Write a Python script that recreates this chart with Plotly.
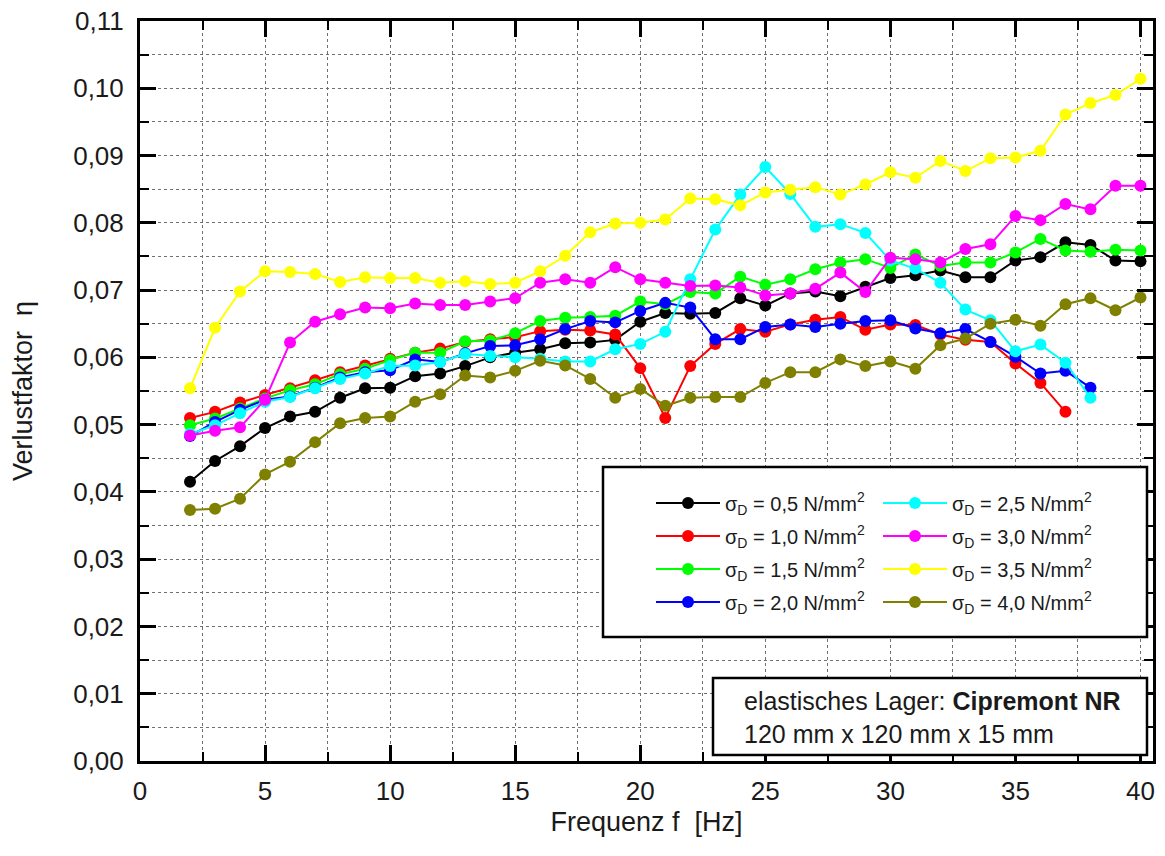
import plotly.graph_objects as go

freq = [2, 3, 4, 5, 6, 7, 8, 9, 10, 11, 12, 13, 14, 15, 16, 17, 18, 19, 20,
        21, 22, 23, 24, 25, 26, 27, 28, 29, 30, 31, 32, 33, 34, 35, 36, 37, 38, 39, 40]

s05 = [0.0415, 0.0446, 0.0468, 0.0495, 0.0512, 0.0519, 0.0540, 0.0554, 0.0555, 0.0572, 0.0576, 0.0587,
       0.0600, 0.0607, 0.0612, 0.0621, 0.0622, 0.0626, 0.0653, 0.0666, 0.0665, 0.0666, 0.0688, 0.0677, 0.0695,
       0.0698, 0.0691, 0.0705, 0.0718, 0.0722, 0.0729, 0.0719, 0.0719, 0.0744, 0.0749, 0.0771, 0.0767, 0.0744, 0.0743]
s10 = [0.0510, 0.0519, 0.0533, 0.0544, 0.0554, 0.0566, 0.0578, 0.0588, 0.0598, 0.0607, 0.0613, 0.0623,
       0.0627, 0.0630, 0.0639, 0.0641, 0.0640, 0.0634, 0.0584, 0.0510, 0.0587, 0.0620, 0.0642, 0.0638, 0.0649,
       0.0656, 0.0660, 0.0641, 0.0649, 0.0648, 0.0634, 0.0626, 0.0623, 0.0591, 0.0562, 0.0519]
s15 = [0.0499, 0.0509, 0.0524, 0.0539, 0.0551, 0.0560, 0.0575, 0.0583, 0.0596, 0.0607, 0.0607, 0.0624,
       0.0625, 0.0636, 0.0654, 0.0659, 0.0660, 0.0662, 0.0683, 0.0679, 0.0697, 0.0695, 0.0720, 0.0708, 0.0716,
       0.0731, 0.0741, 0.0746, 0.0733, 0.0753, 0.0736, 0.0741, 0.0741, 0.0756, 0.0776, 0.0759, 0.0757, 0.0760, 0.0759]
s20 = [0.0483, 0.0504, 0.0522, 0.0537, 0.0542, 0.0555, 0.0570, 0.0578, 0.0581, 0.0597, 0.0593, 0.0606,
       0.0617, 0.0618, 0.0627, 0.0642, 0.0654, 0.0652, 0.0669, 0.0681, 0.0674, 0.0627, 0.0627, 0.0645, 0.0649,
       0.0645, 0.0650, 0.0654, 0.0655, 0.0643, 0.0636, 0.0642, 0.0623, 0.0601, 0.0576, 0.0580, 0.0555]
s25 = [0.0486, 0.0499, 0.0517, 0.0534, 0.0541, 0.0554, 0.0568, 0.0576, 0.0587, 0.0588, 0.0593, 0.0605,
       0.0602, 0.0600, 0.0598, 0.0594, 0.0594, 0.0612, 0.0620, 0.0638, 0.0716, 0.0790, 0.0842, 0.0883, 0.0843,
       0.0794, 0.0798, 0.0785, 0.0744, 0.0732, 0.0711, 0.0671, 0.0655, 0.0609, 0.0619, 0.0592, 0.0540]
s30 = [0.0484, 0.0491, 0.0496, 0.0537, 0.0622, 0.0653, 0.0664, 0.0674, 0.0673, 0.0680, 0.0678, 0.0678,
       0.0683, 0.0688, 0.0711, 0.0716, 0.0711, 0.0734, 0.0716, 0.0711, 0.0706, 0.0707, 0.0704, 0.0692, 0.0695,
       0.0702, 0.0726, 0.0697, 0.0748, 0.0746, 0.0741, 0.0761, 0.0768, 0.0810, 0.0804, 0.0828, 0.0820, 0.0855, 0.0855]
s35 = [0.0554, 0.0644, 0.0698, 0.0728, 0.0727, 0.0724, 0.0712, 0.0719, 0.0718, 0.0718, 0.0711, 0.0713,
       0.0709, 0.0711, 0.0728, 0.0751, 0.0786, 0.0799, 0.0800, 0.0805, 0.0836, 0.0835, 0.0826, 0.0845, 0.0849,
       0.0853, 0.0842, 0.0857, 0.0875, 0.0867, 0.0892, 0.0877, 0.0896, 0.0897, 0.0907, 0.0961, 0.0978, 0.0990, 0.1014]
s40 = [0.0373, 0.0375, 0.0390, 0.0426, 0.0445, 0.0474, 0.0502, 0.0510, 0.0512, 0.0534, 0.0545, 0.0573,
       0.0570, 0.0580, 0.0595, 0.0588, 0.0568, 0.0540, 0.0553, 0.0528, 0.0540, 0.0541, 0.0541, 0.0562, 0.0578,
       0.0578, 0.0597, 0.0587, 0.0594, 0.0583, 0.0618, 0.0628, 0.0650, 0.0656, 0.0647, 0.0679, 0.0688, 0.0670, 0.0689]

labels = ["0,5", "1,0", "1,5", "2,0", "2,5", "3,0", "3,5", "4,0"]
series = [s05, s10, s15, s20, s25, s30, s35, s40]
colors = ["#000000", "#FF0000", "#00FF00", "#0000FF", "#00FFFF", "#FF00FF", "#FFFF00", "#808000"]
legend_ids = ["legend", "legend", "legend", "legend", "legend2", "legend2", "legend2", "legend2"]

FONT = "Liberation Sans, Arial, sans-serif"
TXT = "#1a1a1a"

fig = go.Figure()
for i, (lab, s, c, lg) in enumerate(zip(labels, series, colors, legend_ids)):
    fig.add_trace(go.Scatter(
        x=freq[:len(s)], y=s, mode="lines+markers",
        name="σ<sub>D</sub> = " + lab + " N/mm<sup>2</sup>",
        line=dict(color=c, width=2),
        marker=dict(color=c, size=12, line=dict(width=0)),
        legend=lg, legendgroup="g%d" % i,
    ))

W, H = 1165, 856
L, R, T, B = 140, 12, 21, 95
pw, ph = W - L - R, H - T - B

def px(xp):
    return (xp - L) / pw

def py(yp):
    return (H - B - yp) / ph

axis_common = dict(
    showline=True, linewidth=3, linecolor="black", mirror="ticks",
    ticks="inside", tickwidth=3, ticklen=16, tickcolor="black",
    showgrid=True, gridcolor="#707070", griddash="dot", gridwidth=1,
    zeroline=False,
    tickfont=dict(family=FONT, size=26, color=TXT),
)

fig.update_xaxes(
    **axis_common,
    range=[0, 40.5], tickmode="linear", tick0=0, dtick=5,
    minor=dict(dtick=2.5, ticks="inside", ticklen=9, tickwidth=2, tickcolor="black",
               showgrid=True, gridcolor="#707070", griddash="dot", gridwidth=1),
    title=dict(text="Frequenz f  [Hz]", font=dict(family=FONT, size=27, color=TXT), standoff=7),
    ticklabelstandoff=5,
)
fig.update_yaxes(
    **axis_common,
    range=[0, 0.11], tickmode="linear", tick0=0, dtick=0.01, tickformat=".2f",
    minor=dict(dtick=0.005, ticks="inside", ticklen=9, tickwidth=2, tickcolor="black",
               showgrid=True, gridcolor="#707070", griddash="dot", gridwidth=1),
    title=dict(text="Verlustfaktor  η", font=dict(family=FONT, size=27, color=TXT), standoff=33),
    ticklabelstandoff=8,
)

legend_style = dict(
    orientation="v", xanchor="left", yanchor="top",
    bgcolor="rgba(0,0,0,0)", borderwidth=0,
    font=dict(family=FONT, size=20, color=TXT),
    itemwidth=64, tracegroupgap=4,
)

fig.update_layout(
    width=W, height=H,
    margin=dict(l=L, r=R, t=T, b=B, autoexpand=False),
    paper_bgcolor="white", plot_bgcolor="white",
    separators=",.",
    showlegend=True,
    legend=dict(x=px(651), y=py(483.5), **legend_style),
    legend2=dict(x=px(878), y=py(483.5), **legend_style),
    shapes=[
        dict(type="rect", xref="paper", yref="paper",
             x0=px(603), x1=px(1147), y0=py(637), y1=py(467),
             line=dict(color="black", width=2.5), fillcolor="white", layer="above"),
        dict(type="rect", xref="paper", yref="paper",
             x0=px(713), x1=px(1147), y0=py(755), y1=py(678),
             line=dict(color="black", width=2.5), fillcolor="white", layer="above"),
    ],
    annotations=[
        dict(xref="paper", yref="paper", x=px(742), y=py(701), xanchor="left", yanchor="middle",
             text="elastisches Lager: <b>Cipremont NR</b>", showarrow=False,
             font=dict(family=FONT, size=25, color=TXT)),
        dict(xref="paper", yref="paper", x=px(742), y=py(734), xanchor="left", yanchor="middle",
             text="120 mm x 120 mm x 15 mm", showarrow=False,
             font=dict(family=FONT, size=25, color=TXT)),
    ],
)

fig.write_html("out.html")
